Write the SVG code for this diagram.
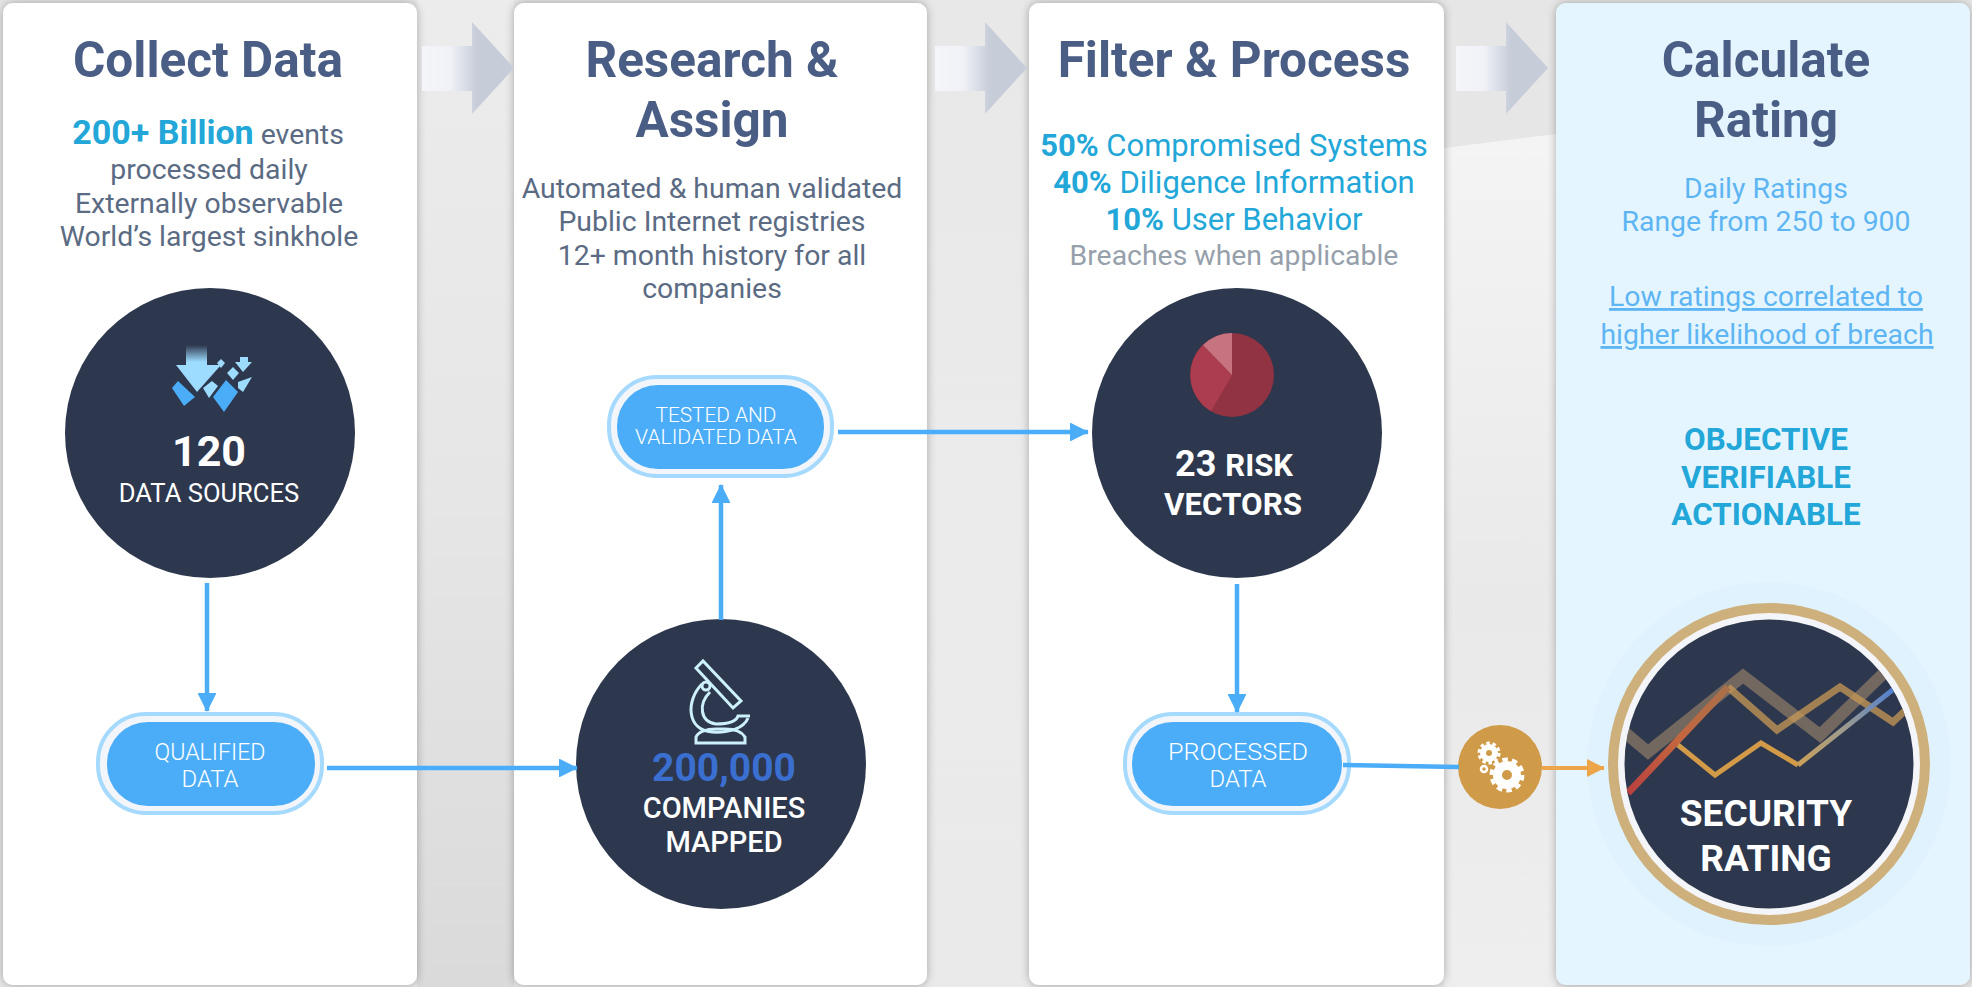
<svg xmlns="http://www.w3.org/2000/svg" width="1972" height="987" viewBox="0 0 1972 987">
<style>
text{font-family:Roboto,"Liberation Sans",sans-serif;text-anchor:middle}
.t{font-size:49.5px;font-weight:700;fill:#4a5d85}
.b{font-size:28.4px;fill:#5a6b83}
.c{font-size:31px;fill:#22a7d8}
.l{font-size:28.4px;fill:#5eb5f3}
.p{font-size:24px;font-weight:300;fill:#fff}
.o{font-size:31.4px;font-weight:700;fill:#22a7d8}
.n{fill:#2d374d}
.card{filter:url(#sh)}
.ln{stroke:#4badf8;stroke-width:4.5;fill:none}
.pill{fill:#f2f5f9;stroke:#a5dafe;stroke-width:4}
.pi{fill:#4badf8}
</style>
<defs>
<linearGradient id="g1" x1="0" y1="0" x2="0" y2="1"><stop offset="0" stop-color="#ececec"/><stop offset=".5" stop-color="#e6e6e6"/><stop offset="1" stop-color="#dadada"/></linearGradient>
<linearGradient id="g2" x1="0" y1="0" x2="0" y2="1"><stop offset="0" stop-color="#e8e8e8"/><stop offset=".5" stop-color="#ebebeb"/><stop offset="1" stop-color="#eaeaea"/></linearGradient>
<linearGradient id="g3" x1="0" y1="0" x2="0" y2="1"><stop offset="0" stop-color="#f4f4f4"/><stop offset=".55" stop-color="#e9e9e9"/><stop offset="1" stop-color="#eeeeee"/></linearGradient>
<linearGradient id="ar" x1="0" y1="0" x2="1" y2="0"><stop offset="0" stop-color="#f3f5f9"/><stop offset=".3" stop-color="#f0f2f7"/><stop offset=".6" stop-color="#c6ccd8"/><stop offset="1" stop-color="#c6ccd8"/></linearGradient>
<linearGradient id="fadeA" x1="0" y1="0" x2="0" y2="1"><stop offset="0" stop-color="#2d374d"/><stop offset="1" stop-color="#9ddcff"/></linearGradient>
<linearGradient id="redL" gradientUnits="userSpaceOnUse" x1="1628" y1="793" x2="1728" y2="687"><stop offset="0" stop-color="#b8403f"/><stop offset=".5" stop-color="#c4663f"/><stop offset="1" stop-color="#a9704a"/></linearGradient>
<linearGradient id="thin" gradientUnits="userSpaceOnUse" x1="1798" y1="763" x2="1893" y2="688"><stop offset="0" stop-color="#c9a05a"/><stop offset=".5" stop-color="#9a9a92"/><stop offset="1" stop-color="#4f7fd0"/></linearGradient>
<filter id="sh" x="-5%" y="-2%" width="110%" height="104%"><feGaussianBlur in="SourceAlpha" stdDeviation="5"/><feComponentTransfer><feFuncA type="linear" slope=".3"/></feComponentTransfer><feMerge><feMergeNode/><feMergeNode in="SourceGraphic"/></feMerge></filter>
<marker id="mb" markerWidth="4.2" markerHeight="4.2" refX="4" refY="2.1" orient="auto"><path d="M0 0L4.2 2.1L0 4.2Z" fill="#4badf8"/></marker>
<marker id="mo" markerWidth="4.5" markerHeight="4.5" refX="4.3" refY="2.25" orient="auto"><path d="M0 0L4.5 2.25L0 4.5Z" fill="#eda54a"/></marker>
<path id="bigarrow" d="M0 46H50V22L92 68L50 114V91H0Z" fill="url(#ar)"/>
</defs>
<rect width="1972" height="987" fill="#e6e6e6"/>
<rect x="417" width="97" height="987" fill="url(#g1)"/>
<rect x="927" width="102" height="987" fill="url(#g2)"/>
<path d="M1444 148L1556 134V987H1444Z" fill="url(#g3)"/>

<g id="panels">
<rect class="card" x="3" y="3" width="414" height="982" rx="10" fill="#fff"/>
<rect class="card" x="514" y="3" width="413" height="982" rx="10" fill="#fff"/>
<rect class="card" x="1029" y="3" width="415" height="982" rx="10" fill="#fff"/>
<rect class="card" x="1556" y="3" width="414" height="982" rx="10" fill="#e5f5ff"/>
</g>
<g id="step-arrows">
<use href="#bigarrow" x="422" y="0"/>
<use href="#bigarrow" x="935" y="0"/>
<use href="#bigarrow" x="1456" y="0"/>
</g>

<g id="col1-text">
<text class="t" x="208" y="77">Collect Data</text>
<text x="208" y="144" class="b"><tspan style="font-size:34px;font-weight:700;fill:#22a7d8">200+ Billion</tspan> events</text>
<text class="b" x="209" y="179">processed daily</text>
<text class="b" x="209" y="213">Externally observable</text>
<text class="b" x="209" y="246">World’s largest sinkhole</text>
</g>
<g id="col2-text">
<text class="t" x="712" y="77">Research &amp;</text>
<text class="t" x="712" y="137">Assign</text>
<text class="b" x="712" y="198">Automated &amp; human validated</text>
<text class="b" x="712" y="231">Public Internet registries</text>
<text class="b" x="712" y="265">12+ month history for all</text>
<text class="b" x="712" y="298">companies</text>
</g>
<g id="col3-text">
<text class="t" x="1234" y="77">Filter &amp; Process</text>
<text class="c" x="1234" y="156"><tspan font-weight="700">50%</tspan> Compromised Systems</text>
<text class="c" x="1234" y="193"><tspan font-weight="700">40%</tspan> Diligence Information</text>
<text class="c" x="1234" y="230"><tspan font-weight="700">10%</tspan> User Behavior</text>
<text x="1234" y="265" style="font-size:28.4px;fill:#96a0ab">Breaches when applicable</text>
</g>
<g id="col4-text">
<text class="t" x="1766" y="77">Calculate</text>
<text class="t" x="1766" y="137">Rating</text>
<text class="l" x="1766" y="198">Daily Ratings</text>
<text class="l" x="1766" y="231">Range from 250 to 900</text>
<text class="l" x="1766" y="306" text-decoration="underline">Low ratings correlated to</text>
<text class="l" x="1767" y="344" text-decoration="underline">higher likelihood of breach</text>
<text class="o" x="1766" y="450">OBJECTIVE</text>
<text class="o" x="1766" y="488">VERIFIABLE</text>
<text class="o" x="1766" y="525">ACTIONABLE</text>
</g>

<g id="data-sources">
<circle class="n" cx="210" cy="433" r="145"/>
<path d="M186 345H207V365H221L197 392L176 365H186Z" fill="#9ddcff"/>
<path d="M186 345H207V362H186Z" fill="url(#fadeA)"/>
<path d="M172 388L178 381L195 397L184 406Z" fill="#4badf8"/>
<path d="M226 380L238 392L224 412L213 397Z" fill="#4badf8"/>
<path d="M203 388L212 381L218 386L209 398Z" fill="#9ddcff"/>
<path d="M221 359L225 363L221 368L217 363Z M233 367L239 373L233 380L227 373Z M240 357H248V362H252L243 372L235 362H240Z M238 382L252 377L243 392L238 388Z" fill="#9ddcff"/>
<text x="209" y="466" style="font-size:43px;font-weight:700;fill:#fff">120</text>
<text x="209" y="502" style="font-size:25.6px;fill:#fff">DATA SOURCES</text>
</g>

<g id="qualified-data">
<rect class="pill" x="98" y="714" width="224" height="99" rx="48"/>
<rect class="pi" x="107" y="722" width="208" height="84" rx="41"/>
<text class="p" x="210" y="760" textLength="111" lengthAdjust="spacingAndGlyphs">QUALIFIED</text>
<text class="p" x="210" y="787" textLength="57" lengthAdjust="spacingAndGlyphs">DATA</text>
</g>

<g id="companies-mapped">
<circle class="n" cx="721" cy="764" r="145"/>
<g fill="none" stroke="#cdf0fd" stroke-width="3">
<path d="M696 668L703 661L741 701L733 708Z"/>
<path d="M702 684C686 700 686 730 712 732C730 733 744 728 748 718"/>
<path d="M710 692C698 704 700 722 716 724C728 724 736 722 738 716H750"/>
<circle cx="706" cy="686" r="4"/>
<path d="M696 743H745V737C742 732 735 729 725 729H716C706 729 698 732 696 737Z"/>
</g>
<text x="724" y="781" style="font-size:39px;font-weight:700;fill:#3a6fd0">200,000</text>
<text x="724" y="818" style="font-size:29px;font-weight:500;fill:#fff">COMPANIES</text>
<text x="724" y="852" style="font-size:29px;font-weight:500;fill:#fff">MAPPED</text>
</g>

<g id="tested-validated">
<rect class="pill" x="609" y="377" width="223" height="99" rx="48"/>
<rect class="pi" x="617" y="385" width="207" height="84" rx="41"/>
<text class="p" x="716" y="422" textLength="121" lengthAdjust="spacingAndGlyphs" style="font-size:21px">TESTED AND</text>
<text class="p" x="716" y="444" textLength="162" lengthAdjust="spacingAndGlyphs" style="font-size:21px">VALIDATED DATA</text>
</g>

<g id="risk-vectors">
<circle class="n" cx="1237" cy="433" r="145"/>
<circle cx="1232" cy="375" r="42" fill="#923343"/>
<path d="M1232 375L1211 411A42 42 0 0 1 1203 345Z" fill="#ac3d50"/>
<path d="M1232 375L1203 345A42 42 0 0 1 1232 333Z" fill="#c67480"/>
<text x="1234" y="476" style="font-size:36px;font-weight:700;fill:#fff">23 <tspan style="font-size:31px">RISK</tspan></text>
<text x="1233" y="515" style="font-size:31.3px;font-weight:700;fill:#fff">VECTORS</text>
</g>

<g id="processed-data">
<rect class="pill" x="1125" y="714" width="224" height="99" rx="48"/>
<rect class="pi" x="1132" y="722" width="210" height="84" rx="41"/>
<text class="p" x="1238" y="760" textLength="140" lengthAdjust="spacingAndGlyphs">PROCESSED</text>
<text class="p" x="1238" y="787" textLength="57" lengthAdjust="spacingAndGlyphs">DATA</text>
</g>

<g id="gears">
<circle cx="1500" cy="767" r="42" fill="#d09b48"/>
<g fill="none" stroke="#fff">
<circle cx="1489" cy="753" r="6" stroke-width="6"/>
<circle cx="1489" cy="753" r="10" stroke-width="3" stroke-dasharray="3.5 2.8"/>
<circle cx="1507" cy="775" r="9.5" stroke-width="9"/>
<circle cx="1507" cy="775" r="15.5" stroke-width="4" stroke-dasharray="5.5 4.2"/>
<circle cx="1484" cy="769" r="3" stroke-width="2.5"/>
</g>
</g>

<g id="security-rating">
<circle cx="1769" cy="764" r="182" fill="#dff2fe"/>
<circle cx="1769" cy="764" r="161" fill="#ceb07c"/>
<circle cx="1769" cy="764" r="151" fill="#f4f5f8"/>
<clipPath id="rc"><circle cx="1769" cy="764" r="144.5"/></clipPath>
<circle class="n" cx="1769" cy="764" r="144.5"/>
<g clip-path="url(#rc)" fill="none">
<path d="M1622 730L1648 752L1743 676L1820 735L1885 672" stroke="#b79a73" stroke-width="12" stroke-opacity=".5"/>
<path d="M1728 687L1777 730L1840 687L1893 722L1910 706" stroke="#c89a56" stroke-width="7" stroke-opacity=".75"/>
<path d="M1628 793L1728 687" stroke="url(#redL)" stroke-width="7"/>
<path d="M1678 745L1715 775L1761 743L1798 765" stroke="#d39a48" stroke-width="5"/>
<path d="M1798 765L1895 688" stroke="url(#thin)" stroke-width="5"/>
</g>
<text x="1766" y="826" style="font-size:37px;font-weight:700;fill:#fff">SECURITY</text>
<text x="1766" y="871" style="font-size:37px;font-weight:700;fill:#fff">RATING</text>
</g>

<g id="connectors">
<path class="ln" d="M207 583V711" marker-end="url(#mb)"/>
<path class="ln" d="M327 768H577" marker-end="url(#mb)"/>
<path class="ln" d="M721 620V485" marker-end="url(#mb)"/>
<path class="ln" d="M838 432H1088" marker-end="url(#mb)"/>
<path class="ln" d="M1237 584V712" marker-end="url(#mb)"/>
<path class="ln" d="M1343 765L1459 767" stroke-width="5"/>
<path d="M1542 768H1604" stroke="#eda54a" stroke-width="4" fill="none" marker-end="url(#mo)"/>
</g>
</svg>
